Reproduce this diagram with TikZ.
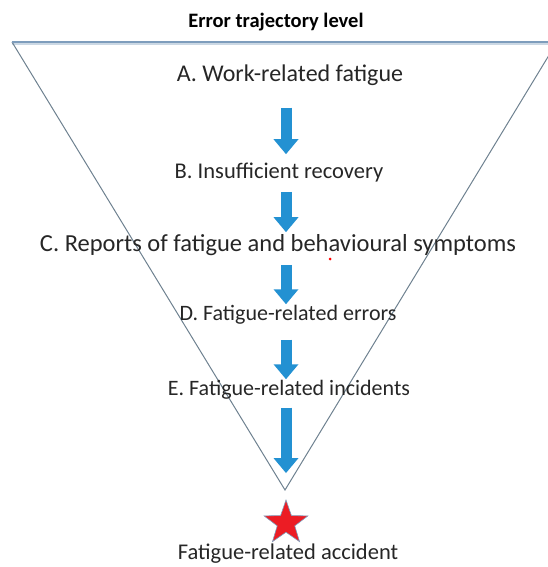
\documentclass[tikz,border=0pt]{standalone}
\usepackage{fontspec}
\setmainfont{Carlito}
\usetikzlibrary{arrows.meta}
\usetikzlibrary{shapes.geometric}

\definecolor{arrowblue}{HTML}{2391D2}
\definecolor{edgegray}{HTML}{6E8190}
\definecolor{topblue}{HTML}{7E9DBC}
\definecolor{textgray}{HTML}{262626}
\definecolor{starred}{HTML}{EC1C24}

\tikzset{
  level/.style={font=\fontsize{#1}{#1}\selectfont, text=textgray, inner sep=0pt},
  level/.default=23,
  flow/.style={line width=11pt, arrowblue, -{Triangle[width=24pt,length=15pt]}},
  side/.style={edgegray, line width=1pt},
}

\begin{document}
\begin{tikzpicture}[x=1pt,y=-1pt]
\useasboundingbox (0,0) rectangle (548,567);
\begin{scope}
  \clip (0,0) rectangle (548,567);
  \coordinate (tl) at (12,42);
  \coordinate (tr) at (557,42);
  \coordinate (apex) at (285,490);
  \draw[topblue!40, line width=2pt] ([yshift=-2pt]tl) -- ([yshift=-2pt]tr);
  \draw[side] (tl) -- (apex) -- (tr);
  \draw[topblue, line width=1.5pt] (tl) -- (tr);
\end{scope}

  \node[font=\bfseries\fontsize{20.5}{24}\selectfont, inner sep=0pt] (title) at (276,22) {Error trajectory level};

  \node[level=24] (a) at (290,75) {A. Work-related fatigue};
  \node[level=22.5] (b) at (279,173) {B. Insufficient recovery};
  \node[level=24.5] (c) at (278,245) {C. Reports of fatigue and behavioural symptoms};
  \node[level=22] (d) at (288,315) {D. Fatigue-related errors};
  \node[level=22] (e) at (289,390) {E. Fatigue-related incidents};
  \node[star, star points=5, star point ratio=2.5, minimum size=46pt, inner sep=0pt,
        fill=starred, draw=topblue, line width=0.6pt] (acc) at (286,523) {};
  \node[level=22.5] (f) at (288,554) {Fatigue-related accident};

  \draw[flow, shorten <=22pt, shorten >=9pt] (a.south -| acc) -- (b.north -| acc);
  \draw[flow, shorten <=9pt, shorten >=2pt] (b.south -| acc) -- (c.north -| acc);
  \draw[flow, shorten <=9pt, shorten >=1pt] (c.south -| acc) -- (d.north -| acc);
  \draw[flow, shorten <=15pt, shorten >=1pt] (d.south -| acc) -- (e.north -| acc);
  \draw[flow, shorten <=8pt, shorten >=26pt] (e.south -| acc) -- (acc.north);

  \fill[red] (330,259) circle (1.5pt);
\end{tikzpicture}
\end{document}
